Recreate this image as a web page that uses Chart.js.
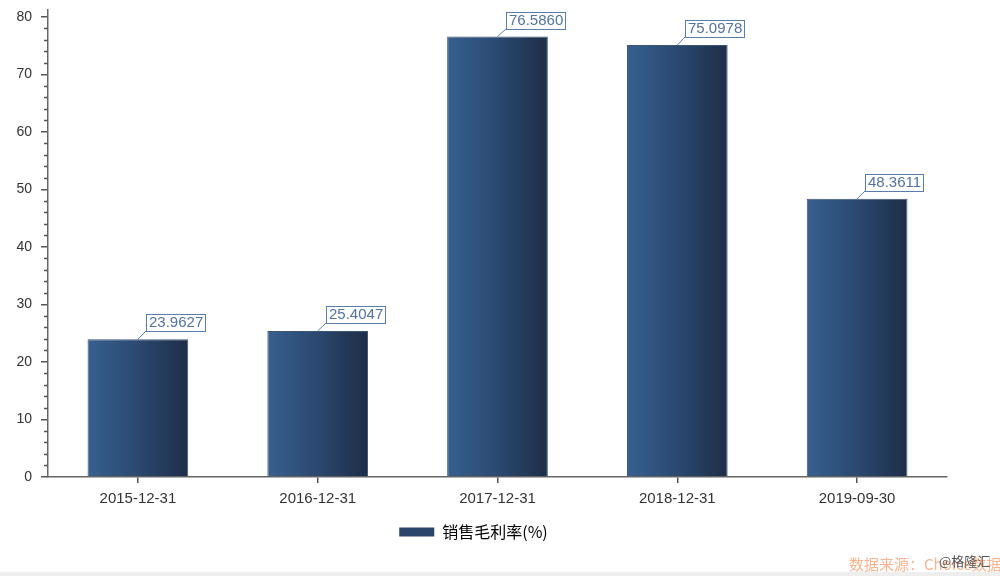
<!DOCTYPE html>
<html>
<head>
<meta charset="utf-8">
<script src="https://cdn.jsdelivr.net/npm/chart.js@4"></script>
<style>
  html, body { margin: 0; padding: 0; background: #fff; }
  #wrap { position: relative; width: 1000px; height: 576px; overflow: hidden; }
  #source { position: absolute; left: 849px; top: 553px; font: 15px "Noto Sans CJK SC", sans-serif; color: rgba(244, 140, 84, 0.65); white-space: nowrap; }
  #brand { position: absolute; left: 939px; top: 551px; font: 13px "Noto Sans CJK SC", sans-serif; color: #555; white-space: nowrap; }
  #strip { position: absolute; left: 0; top: 572px; width: 1000px; height: 4px; background: #eeeeee; }
</style>
</head>
<body>
<div id="wrap">
  <canvas id="bar-chart" width="1000" height="576"></canvas>
  <div id="source">数据来源：Choice数据</div>
  <div id="brand">@格隆汇</div>
  <div id="strip"></div>
</div>
<script>
const categories = ['2015-12-31', '2016-12-31', '2017-12-31', '2018-12-31', '2019-09-30'];
const grossMargin = [23.9627, 25.4047, 76.5860, 75.0978, 48.3611];
const yTicks = [0, 10, 20, 30, 40, 50, 60, 70, 80];
const yMinorStep = 2;
const seriesName = '销售毛利率(%)';

const BAR_PCT = 0.56;

function barGradient(context) {
    const chart = context.chart;
    const area = chart.chartArea;
    if (!area || context.dataIndex === undefined) return '#2b4569';
    const xCenter = chart.scales.x.getPixelForValue(context.dataIndex);
    const half = (area.width / categories.length) * BAR_PCT / 2;
    const g = chart.ctx.createLinearGradient(xCenter - half, 0, xCenter + half, 0);
    g.addColorStop(0, '#37608f');
    g.addColorStop(0.5, '#2b4870');
    g.addColorStop(1, '#1e2e47');
    return g;
}

// minor ticks on the y axis
const minorTicks = {
    id: 'minorTicks',
    afterDraw(chart) {
        const {ctx, scales: {y}} = chart;
        ctx.save();
        ctx.strokeStyle = '#555';
        ctx.lineWidth = 1.5;
        for (let v = 0; v <= yTicks[yTicks.length - 1]; v += yMinorStep) {
            if (v % 10 === 0) continue;
            const py = Math.round(y.getPixelForValue(v)) + 0.5;
            ctx.beginPath();
            ctx.moveTo(y.right - 4, py);
            ctx.lineTo(y.right, py);
            ctx.stroke();
        }
        ctx.restore();
    }
};

// value boxes with leader lines
const valueLabels = {
    id: 'valueLabels',
    afterDatasetsDraw(chart) {
        const {ctx} = chart;
        const meta = chart.getDatasetMeta(0);
        ctx.save();
        ctx.font = '15px "Liberation Sans", Arial, sans-serif';
        ctx.textBaseline = 'middle';
        meta.data.forEach((bar, i) => {
            const text = grossMargin[i].toFixed(4);
            const w = Math.round(ctx.measureText(text).width + 5);
            const bx = Math.round(bar.x + 8);
            const by = Math.round(bar.y - 8);
            ctx.strokeStyle = '#5a7db0';
            ctx.lineWidth = 1;
            ctx.beginPath();
            ctx.moveTo(bar.x, bar.y);
            ctx.lineTo(bx, by);
            ctx.stroke();
            ctx.fillStyle = '#fff';
            ctx.fillRect(bx, by - 17, w, 17);
            ctx.strokeRect(bx + 0.5, by - 17 + 0.5, w, 17);
            ctx.fillStyle = '#5272a3';
            ctx.fillText(text, bx + 3, by - 8);
        });
        ctx.restore();
    }
};

const barChart = new Chart(document.getElementById('bar-chart'), {
    type: 'bar',
    data: {
        labels: categories,
        datasets: [{
            label: seriesName,
            data: grossMargin,
            backgroundColor: barGradient,
            borderColor: '#3b5579',
            borderWidth: 1,
            barPercentage: BAR_PCT,
            categoryPercentage: 1
        }]
    },
    options: {
        responsive: false,
        animation: false,
        layout: {
            padding: {top: 10, right: 53, bottom: 26, left: 0}
        },
        plugins: {
            tooltip: {enabled: false},
            legend: {
                position: 'bottom',
                labels: {
                    boxWidth: 35,
                    boxHeight: 9,
                    padding: 10,
                    color: '#333',
                    font: {family: '"Noto Sans CJK SC", sans-serif', size: 16},
                    generateLabels(chart) {
                        return [{
                            text: seriesName,
                            fillStyle: '#2b4569',
                            strokeStyle: '#2b4569',
                            lineWidth: 0,
                            datasetIndex: 0
                        }];
                    }
                }
            }
        },
        scales: {
            x: {
                grid: {display: true, offset: false, drawOnChartArea: false, tickLength: 6, color: '#555', lineWidth: 1.5},
                border: {display: true, color: '#666', width: 1.5},
                ticks: {color: '#333', padding: 7, font: {family: '"Liberation Sans", Arial, sans-serif', size: 15}},
                afterFit(scale) { scale.height = 37; }
            },
            y: {
                min: 0,
                max: 81.2,
                afterBuildTicks(scale) { scale.ticks = yTicks.map(v => ({value: v})); },
                grid: {display: true, drawOnChartArea: false, tickLength: 7, color: '#555', lineWidth: 1.5},
                border: {display: true, color: '#666', width: 1.5},
                ticks: {color: '#333', padding: 9, font: {family: '"Liberation Sans", Arial, sans-serif', size: 14}},
                afterFit(scale) {
                    scale.width = 48;
                    scale.paddingTop = 0;
                    scale.paddingBottom = 0;
                }
            }
        }
    },
    plugins: [minorTicks, valueLabels]
});
</script>
</body>
</html>
